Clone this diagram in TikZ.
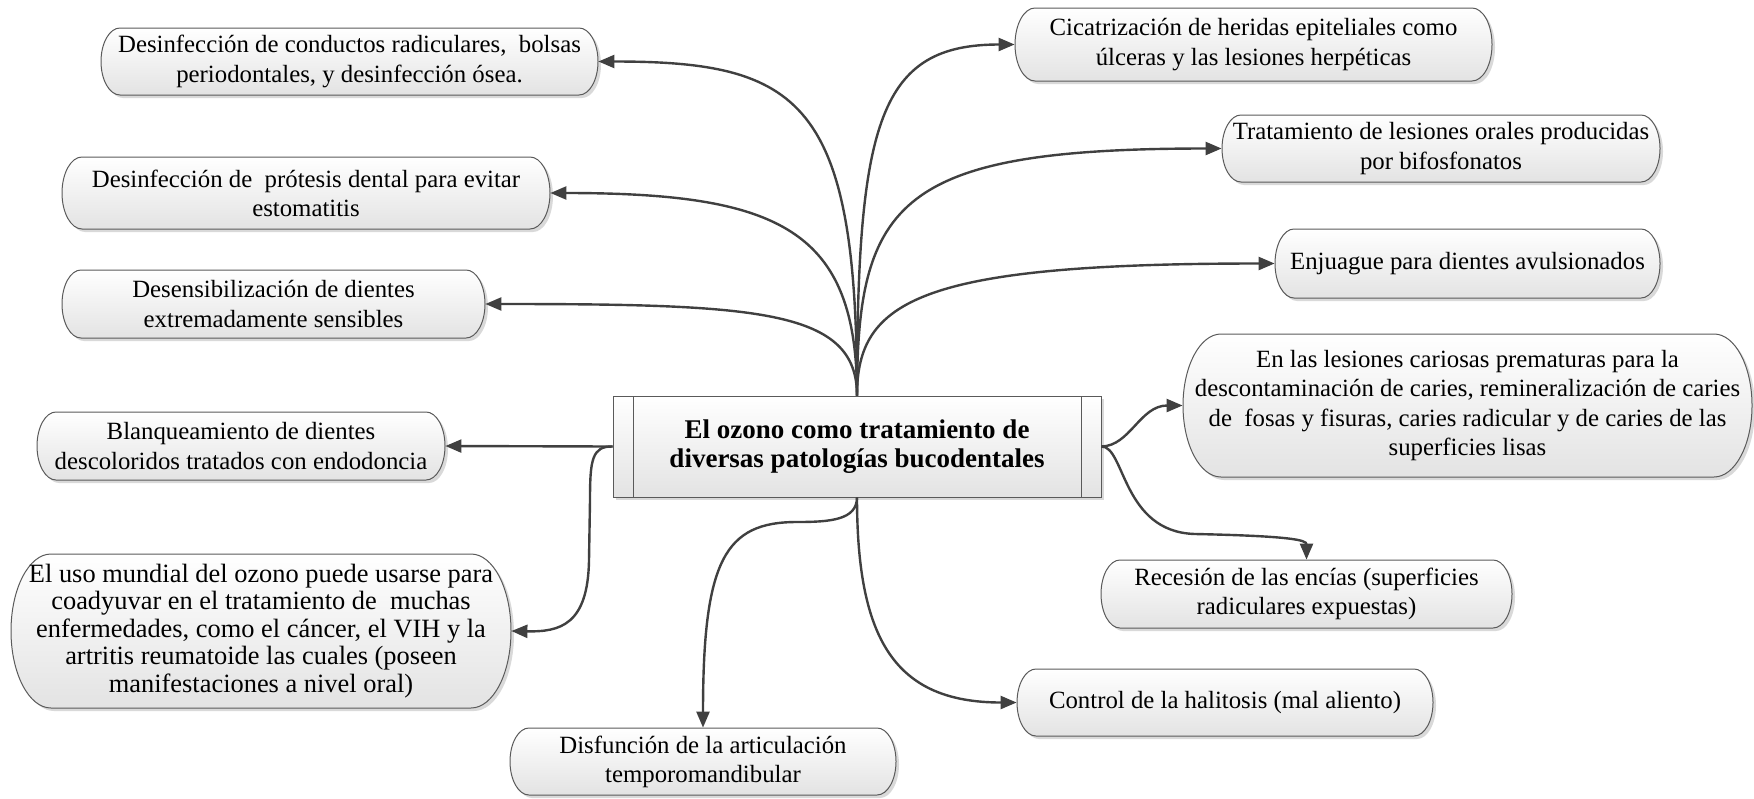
\documentclass[tikz,border=0pt]{standalone}
\usepackage{fontspec}
\setmainfont{Liberation Serif}
\usetikzlibrary{arrows.meta,backgrounds,calc}
\definecolor{linec}{HTML}{404040}
\definecolor{bordc}{HTML}{5A5A5A}
\tikzset{
  boxtext/.style={align=center, font=\fontsize{12.4}{14.6}\selectfont, inner sep=0pt},
  bigtext/.style={font=\fontsize{13.2}{13.8}\selectfont},
  titletext/.style={align=center, font=\bfseries\fontsize{13.5}{14.8}\selectfont, inner sep=0pt},
  conn/.style={draw=linec, line width=1.2pt, -{Triangle[length=8pt,width=6.5pt]}},
  boxshade/.style={top color=white, bottom color=black!11, draw=bordc, line width=0.5pt},
  boxshadow/.style={fill=black!15},
}
% pill outline: cx, cy, w, h, rx, shift, style
\newcommand\pillpath[7]{%
  \path[#7] ({#1-#3/2+#5+#6},{#2-#4/2+#6}) -- ({#1+#3/2-#5+#6},{#2-#4/2+#6})
    arc[start angle=90,end angle=-90,x radius={#5*0.5pt},y radius={#4*0.25pt}]
    -- ({#1-#3/2+#5+#6},{#2+#4/2+#6})
    arc[start angle=270,end angle=90,x radius={#5*0.5pt},y radius={#4*0.25pt}] -- cycle;}
% [extra style] name, cx, cy, w, h, rx, text
\newcommand\pillbox[8][]{%
  \node[boxtext, #1, minimum width={#5*0.5pt}, minimum height={#6*0.5pt}] (#2) at (#3,#4) {#8};
  \begin{pgfonlayer}{background}
    \pillpath{#3}{#4}{#5}{#6}{#7}{3}{boxshadow}
    \pillpath{#3}{#4}{#5}{#6}{#7}{0}{boxshade}
  \end{pgfonlayer}}
\begin{document}
\begin{tikzpicture}[x=0.5pt,y=-0.5pt]
\useasboundingbox (0,0) rectangle (1754,798);

% central node
\node[titletext, minimum width={488*0.5pt}, minimum height={101*0.5pt}] (c) at (857,446.5)
  {El ozono como tratamiento de\\diversas patologías bucodentales};
\begin{pgfonlayer}{background}
  \fill[black!15] (616,399) rectangle (1104,500);
  \shade[boxshade] (613,396) rectangle (1101,497);
  \draw[bordc, line width=0.5pt] (633,396) -- (633,497) (1081,396) -- (1081,497);
\end{pgfonlayer}

\pillbox{n1}{349.5}{61.5}{497}{67}{19}{Desinfección de conductos radiculares,~ bolsas\\periodontales, y desinfección ósea.}
\pillbox{n2}{306}{193}{488}{72}{20}{Desinfección de~ prótesis dental para evitar\\estomatitis}
\pillbox{n3}{273.5}{304}{423}{68}{19}{Desensibilización de dientes\\extremadamente sensibles}
\pillbox{n4}{241}{446}{408}{68}{19}{Blanqueamiento de dientes\\descoloridos tratados con endodoncia}
\pillbox[bigtext]{n5}{261}{631}{500}{154}{40}{El uso mundial del ozono puede usarse para\\coadyuvar en el tratamiento de~ muchas\\enfermedades, como el cáncer, el VIH y la\\artritis reumatoide las cuales (poseen\\manifestaciones a nivel oral)}
\pillbox{n6}{703}{761.5}{386}{67}{19}{Disfunción de la articulación\\temporomandibular}
\pillbox{n7}{1225}{702.5}{416}{67}{19}{Control de la halitosis (mal aliento)}
\pillbox{n8}{1306.5}{594}{411}{68}{19}{Recesión de las encías (superficies\\radiculares expuestas)}
\pillbox{n9}{1467.5}{405.5}{569}{143}{38}{En las lesiones cariosas prematuras para la\\descontaminación de caries, remineralización de caries\\de~ fosas y fisuras, caries radicular y de caries de las\\superficies lisas}
\pillbox{n10}{1467.5}{263.5}{385}{69}{19}{Enjuague para dientes avulsionados}
\pillbox{n11}{1441}{148.5}{438}{67}{19}{Tratamiento de lesiones orales producidas\\por bifosfonatos}
\pillbox{n12}{1253.5}{44.5}{477}{73}{20}{Cicatrización de heridas epiteliales como\\úlceras y las lesiones herpéticas}

% connectors
\draw[conn] (c.north) .. controls (857,100) and (800,61.5) .. (n1.east);
\draw[conn] (c.north) .. controls (857,230) and (780,193) .. (n2.east);
\draw[conn] (c.north) .. controls (857,310) and (760,304) .. (n3.east);
\draw[conn] (c.north) .. controls (857,120) and (880,44.5) .. (n12.west);
\draw[conn] (c.north) .. controls (857,200) and (900,148.5) .. (n11.west);
\draw[conn] (c.north) .. controls (857,300) and (920,263.5) .. (n10.west);
\draw[conn] (c.west) -- (n4.east);
\draw[conn] (c.west) .. controls (592,446) and (590,460) .. (590,500) -- (589,560)
  .. controls (588,625) and (560,632) .. (n5.east);
\draw[conn] (c.south) .. controls (857,520) and (830,522) .. (797,522)
  .. controls (725,522) and (703,560) .. (n6.north);
\draw[conn] (c.south) .. controls (857,640) and (895,702.5) .. (n7.west);
\draw[conn] (c.east) .. controls (1130,446) and (1140,405.5) .. (n9.west);
\draw[conn] (c.east) .. controls (1125,446) and (1122,532) .. (1195,534)
  .. controls (1290,536) and (1306.5,540) .. (n8.north);
\end{tikzpicture}
\end{document}
